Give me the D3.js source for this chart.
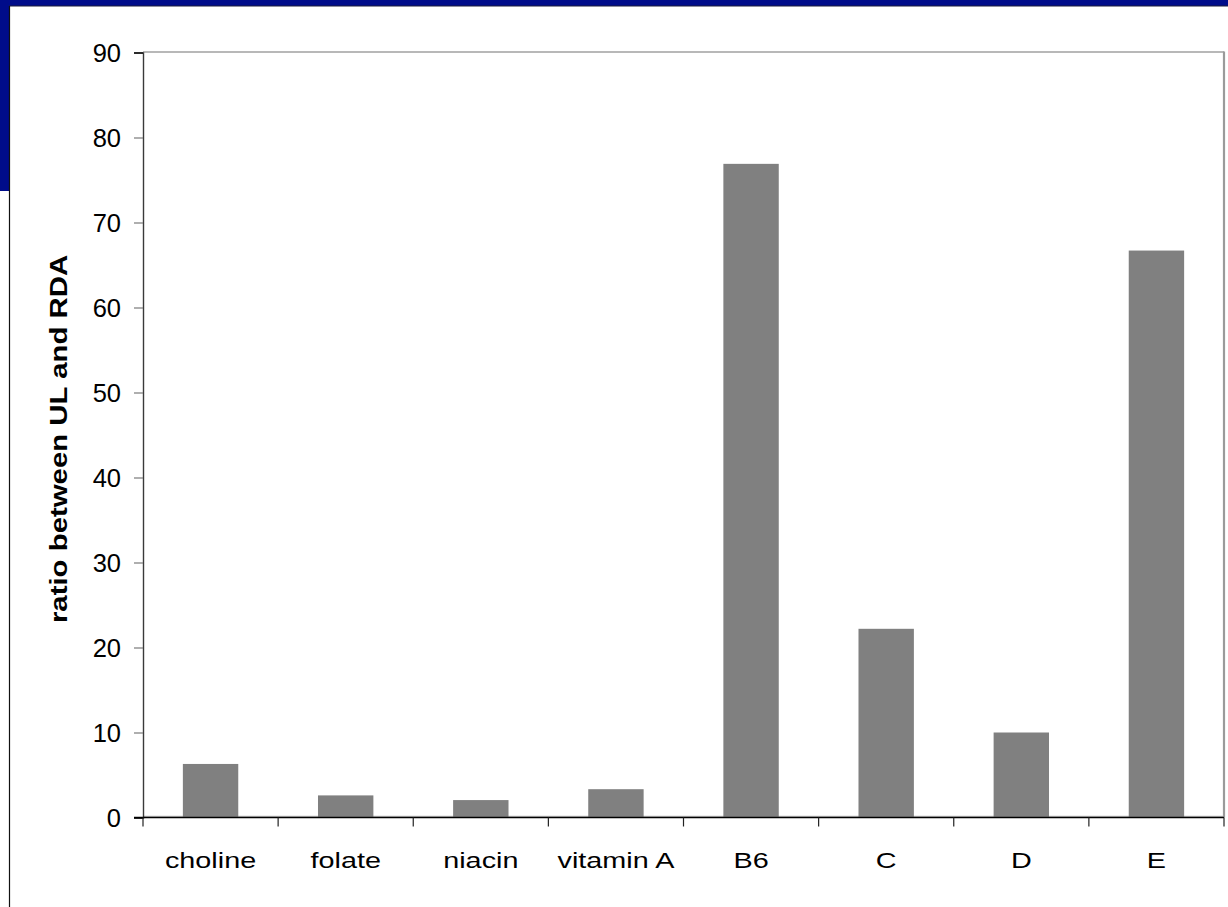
<!DOCTYPE html>
<html>
<head>
<meta charset="utf-8">
<script src="https://cdn.jsdelivr.net/npm/d3@7"></script>
<style>
  html, body { margin: 0; padding: 0; background: #fff; }
  svg { display: block; font-family: "Liberation Sans", Arial, sans-serif; }
</style>
</head>
<body>
<svg id="chart" width="1228" height="907"></svg>
<script>
// Ratio between tolerable upper intake level (UL) and recommended intake (RDA)
const categories = ["choline", "folate", "niacin", "vitamin A", "B6", "C", "D", "E"];
const ratios = [6.3, 2.6, 2.05, 3.33, 76.9, 22.2, 10, 66.7];
const yTicks = [0, 10, 20, 30, 40, 50, 60, 70, 80, 90];
const yTitle = "ratio between UL and RDA";

const W = 1228, H = 907;
const plot = { left: 143, right: 1224, top: 52.5, bottom: 817.5 };

const svg = d3.select("#chart");

// slide frame: navy band along top and left edge
svg.append("rect").attr("x", 0).attr("y", 0).attr("width", W).attr("height", 6).attr("fill", "#000c8a");
svg.append("rect").attr("x", 0).attr("y", 0).attr("width", 9).attr("height", 191).attr("fill", "#000c8a");
svg.append("line").attr("x1", 9).attr("x2", W).attr("y1", 6).attr("y2", 6).attr("stroke", "#1c1c3c").attr("stroke-width", 1.2);
svg.append("line").attr("x1", 9.5).attr("x2", 9.5).attr("y1", 6).attr("y2", H).attr("stroke", "#111").attr("stroke-width", 1.2);

const x = d3.scaleBand()
  .domain(categories)
  .range([plot.left, plot.right])
  .paddingInner(0.59)
  .paddingOuter(0.295);

const y = d3.scaleLinear().domain([0, 90]).range([plot.bottom, plot.top]);

// plot-area border (top and right)
svg.append("line").attr("x1", plot.left).attr("x2", plot.right).attr("y1", plot.top - 0.5).attr("y2", plot.top - 0.5)
  .attr("stroke", "#a0a0a0").attr("stroke-width", 1.6);
svg.append("line").attr("x1", plot.right).attr("x2", plot.right).attr("y1", plot.top - 1).attr("y2", plot.bottom)
  .attr("stroke", "#9a9a9a").attr("stroke-width", 2.2);
svg.append("line").attr("x1", plot.left).attr("x2", plot.right).attr("y1", plot.bottom - 1.2).attr("y2", plot.bottom - 1.2)
  .attr("stroke", "#b0b0b0").attr("stroke-width", 1);

// bars
svg.append("g").selectAll("rect")
  .data(categories.map((c, i) => ({ c, v: ratios[i] })))
  .join("rect")
  .attr("x", d => x(d.c))
  .attr("width", x.bandwidth())
  .attr("y", d => y(d.v))
  .attr("height", d => y(0) - y(d.v))
  .attr("fill", "#808080");

// y axis
const yAxis = d3.axisLeft(y).tickValues(yTicks).tickSize(9).tickFormat(d3.format("d"));
const gy = svg.append("g").attr("transform", `translate(${plot.left},0)`).call(yAxis);
gy.select(".domain").attr("stroke", "#3a3a3a").attr("stroke-width", 1.4);
gy.selectAll(".tick line").attr("stroke", d => (d === 90 || d === 0) ? "#000" : "#7a7a7a").attr("stroke-width", 1.2);
gy.selectAll(".tick text")
  .attr("x", -22)
  .attr("dy", null)
  .attr("y", 8.5)
  .attr("font-size", 25.5)
  .attr("font-family", "Liberation Sans, Arial, sans-serif")
  .attr("fill", "#000")
  .attr("text-anchor", "end");

// x axis: ticks on band boundaries
const boundaries = categories.map(c => x(c) - x.step() * x.paddingOuter()).concat([plot.right]);
const gx = svg.append("g");
gx.append("line").attr("x1", plot.left - 9).attr("x2", plot.right).attr("y1", plot.bottom).attr("y2", plot.bottom)
  .attr("stroke", "#000").attr("stroke-width", 1.4);
gx.selectAll("line.tk").data(boundaries).join("line").attr("class", "tk")
  .attr("x1", d => d).attr("x2", d => d)
  .attr("y1", plot.bottom).attr("y2", plot.bottom + 9)
  .attr("stroke", "#222").attr("stroke-width", 1.2);

// category labels (wide face: stretched horizontally)
gx.selectAll("text").data(categories).join("text")
  .attr("transform", d => `translate(${x(d) + x.bandwidth() / 2},867.5) scale(1.28,1)`)
  .attr("text-anchor", "middle")
  .attr("font-size", 22.5)
  .attr("fill", "#000")
  .text(d => d);

// y axis title
svg.append("text")
  .attr("transform", "translate(67,439) rotate(-90) scale(1.25,1)")
  .attr("text-anchor", "middle")
  .attr("font-size", 23.5)
  .attr("font-weight", "bold")
  .attr("fill", "#000")
  .text(yTitle);
</script>
</body>
</html>
